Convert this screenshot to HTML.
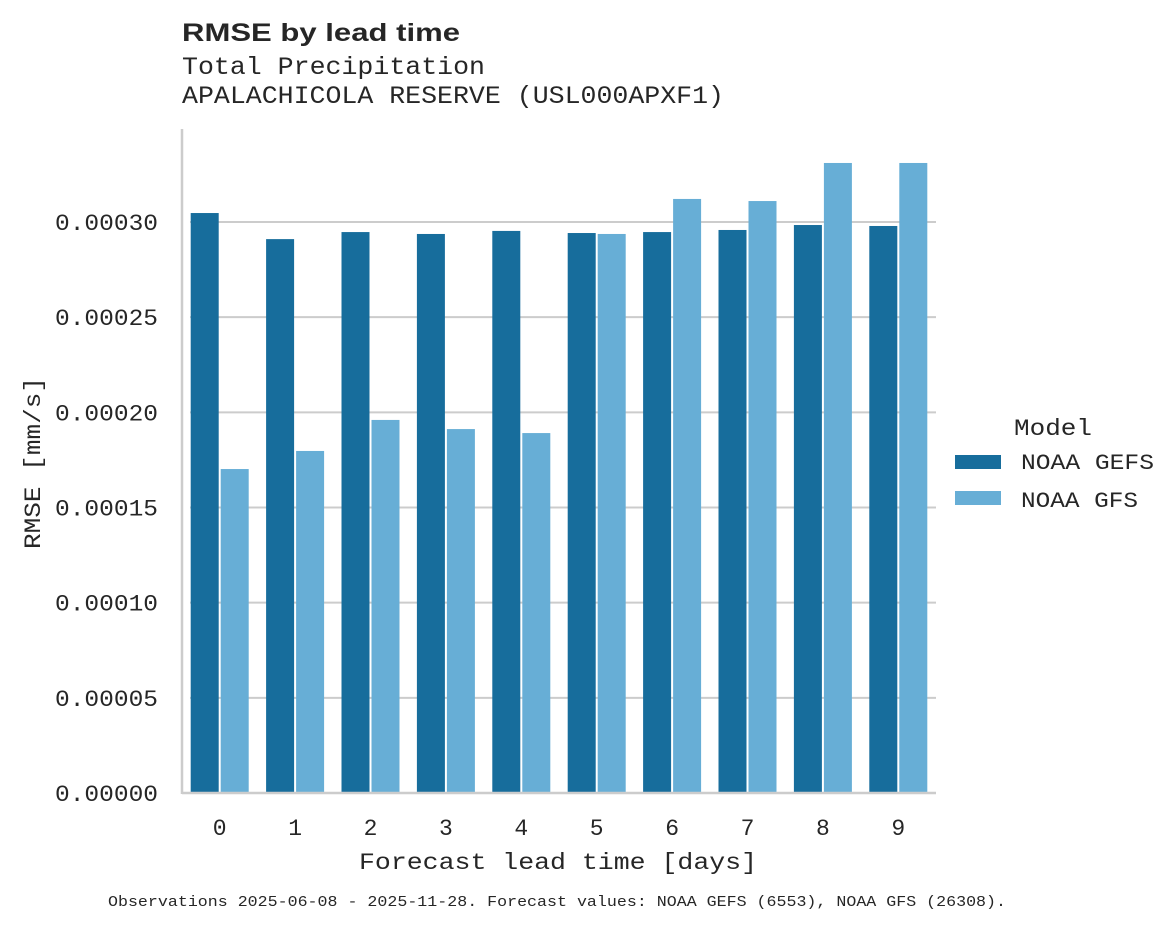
<!DOCTYPE html>
<html><head><meta charset="utf-8">
<style>
html,body{margin:0;padding:0;background:#fff;}
body{width:1175px;height:928px;overflow:hidden;}
svg text{fill:#262626;}
.mono{font-family:"Liberation Mono","DejaVu Sans Mono",monospace;}
</style></head>
<body>
<svg id="chart" width="1175" height="928" xmlns="http://www.w3.org/2000/svg">
<text x="182" y="41" font-family="Liberation Sans, sans-serif" font-weight="bold" font-size="25" textLength="278" lengthAdjust="spacingAndGlyphs">RMSE by lead time</text>
<text class="mono" x="182" y="74" font-size="25" textLength="303" lengthAdjust="spacingAndGlyphs">Total Precipitation</text>
<text class="mono" x="182" y="103" font-size="25" textLength="542" lengthAdjust="spacingAndGlyphs">APALACHICOLA RESERVE (USL000APXF1)</text>
<g id="grid"></g>
<g id="bars"></g>
<g id="axes"></g>
<text class="mono" font-size="23" transform="translate(40,463) rotate(-90)" text-anchor="middle" textLength="172" lengthAdjust="spacingAndGlyphs">RMSE [mm/s]</text>
<text class="mono" font-size="23" x="558" y="869" text-anchor="middle" textLength="398" lengthAdjust="spacingAndGlyphs">Forecast lead time [days]</text>
<g>
<text class="mono" font-size="23" x="1014" y="435" textLength="78" lengthAdjust="spacingAndGlyphs">Model</text>
<rect x="955" y="455" width="46" height="14" fill="#176d9c"/>
<text class="mono" font-size="22" x="1021" y="469" textLength="133" lengthAdjust="spacingAndGlyphs">NOAA GEFS</text>
<rect x="955" y="491" width="46" height="14" fill="#67aed6"/>
<text class="mono" font-size="22" x="1021" y="507" textLength="117" lengthAdjust="spacingAndGlyphs">NOAA GFS</text>
</g>
<text class="mono" font-size="14.5" x="108" y="906" textLength="898" lengthAdjust="spacingAndGlyphs">Observations 2025-06-08 - 2025-11-28. Forecast values: NOAA GEFS (6553), NOAA GFS (26308).</text>
</svg>
<script>
const categories = ["0","1","2","3","4","5","6","7","8","9"];
const gefsValues = [0.0003047,0.000291,0.0002947,0.0002937,0.0002953,0.0002942,0.0002947,0.0002958,0.0002984,0.0002979];
const gfsValues = [0.0001702,0.0001797,0.000196,0.0001912,0.0001891,0.0002937,0.0003121,0.000311,0.000331,0.000331];
const yTicks = [0,0.00005,0.0001,0.00015,0.0002,0.00025,0.0003];
const yTickLabels = ["0.00000","0.00005","0.00010","0.00015","0.00020","0.00025","0.00030"];

const NS="http://www.w3.org/2000/svg";
const x0=182,x1=936,yBase=793,pxPerUnit=95.17/0.00005;
const step=(x1-x0)/categories.length;
function y(v){return yBase-v*pxPerUnit;}
function xc(i){return x0+step*(i+0.5);}
function mk(tag,attrs,parent){const e=document.createElementNS(NS,tag);for(const k in attrs)e.setAttribute(k,attrs[k]);parent.appendChild(e);return e;}
const grid=document.getElementById('grid'),bars=document.getElementById('bars'),axes=document.getElementById('axes');
yTicks.forEach((t,i)=>{
  if(t>0){const l=mk('line',{x1:190,x2:x1,y1:y(t),y2:y(t),stroke:'#cccccc','stroke-width':2},grid);
  
  }
  const tx=mk('text',{x:158,y:y(t)+8,'text-anchor':'end','font-size':23,class:'mono',textLength:103,lengthAdjust:'spacingAndGlyphs'},axes);
  tx.textContent=yTickLabels[i];
  
  
});
const bw=28;
categories.forEach((c,i)=>{
  const cx=xc(i);
  const b1=mk('rect',{x:cx-bw-1,y:y(gefsValues[i]),width:bw,height:yBase-y(gefsValues[i]),fill:'#176d9c'},bars);
  
  
  const b2=mk('rect',{x:cx+1,y:y(gfsValues[i]),width:bw,height:yBase-y(gfsValues[i]),fill:'#67aed6'},bars);
  
  
  const tx=mk('text',{x:cx,y:835,'text-anchor':'middle','font-size':23,class:'mono'},axes);
  tx.textContent=c;
  
  
});
const ya=mk('line',{x1:x0,x2:x0,y1:129,y2:yBase+1,stroke:'#cccccc','stroke-width':2.5},axes);


const xa=mk('line',{x1:x0,x2:x1,y1:yBase,y2:yBase,stroke:'#cccccc','stroke-width':2.5},axes);


</script>
</body></html>
